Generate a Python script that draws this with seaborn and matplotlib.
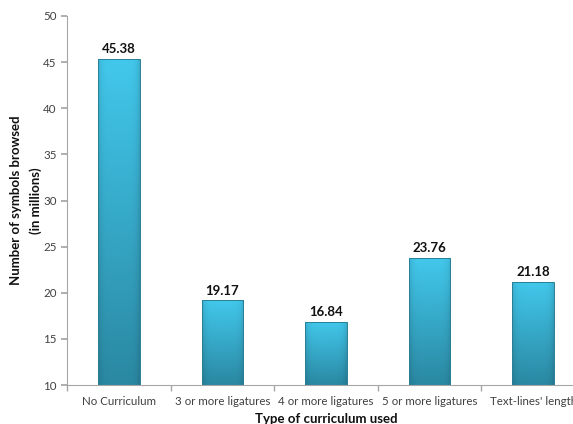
import numpy as np
import pandas as pd
import matplotlib
matplotlib.use("Agg")
import matplotlib.pyplot as plt
import seaborn as sns

categories = ["No Curriculum", "3 or more ligatures", "4 or more ligatures",
              "5 or more ligatures", "Text-lines' length"]
values = [45.38, 19.17, 16.84, 23.76, 21.18]
y_ticks = [10, 15, 20, 25, 30, 35, 40, 45, 50]

sns.set_theme(style="white")
plt.rcParams['font.family'] = ['Lato', 'DejaVu Sans']

df = pd.DataFrame({"cat": categories, "val": values})

fig = plt.figure(figsize=(5.73, 4.24), dpi=100)
ax = fig.add_axes([67/573, 39/424, 518/573, 369/424])

sns.barplot(data=df, x="cat", y="val", ax=ax, color="#35acd0", width=0.4,
            edgecolor="#2a7f95", linewidth=0.7, zorder=2)

ax.set_ylim(10, 50)
ax.set_xlim(-0.5, 4.5)
ax.set_yticks(y_ticks)

# gradient fill clipped to each bar
top = np.array([0x42, 0xc8, 0xec]) / 255
bot = np.array([0x2a, 0x88, 0xa2]) / 255
ny, nx = 200, 40
t = np.linspace(0, 1, ny)[:, None]
xs = np.linspace(-1, 1, nx)[None, :]
base = top[None, None, :] * (1 - t[..., None]) + bot[None, None, :] * t[..., None]
shade = 1 - 0.12 * np.abs(xs) ** 6
img = np.clip(base * shade[..., None], 0, 1)
for p in ax.patches:
    x0, y0 = p.get_x(), p.get_y()
    w, h = p.get_width(), p.get_height()
    im = ax.imshow(img, extent=[x0, x0 + w, 10, y0 + h], aspect="auto",
                   zorder=2.5, origin="upper")
    im.set_clip_path(p)
    p.set_facecolor("none")
    p.set_zorder(3)

for i, v in enumerate(values):
    ax.text(i, v + 0.4, f"{v:.2f}", ha="center", va="bottom",
            fontsize=9.5, fontweight="bold", color="#111111")

sns.despine(ax=ax)
for s in ["left", "bottom"]:
    ax.spines[s].set_color("#a6a6a6")
    ax.spines[s].set_linewidth(0.8)

ax.set_xticks(range(len(categories)))
ax.set_xticklabels(categories)
ax.set_xticks(np.arange(-0.5, 5.0, 1.0), minor=True)
ax.tick_params(axis="x", which="major", length=0, labelsize=8.3,
               labelcolor="#404040", pad=8)
ax.tick_params(axis="x", which="minor", length=4, color="#a6a6a6",
               direction="out", bottom=True)
ax.tick_params(axis="y", length=4, color="#a6a6a6", direction="out",
               left=True, labelsize=8.3, labelcolor="#404040")

ax.set_xlabel("Type of curriculum used", fontsize=9.5, fontweight="bold",
              color="#111111", labelpad=4)
ax.set_ylabel("Number of symbols browsed\n(in millions)", fontsize=9.5,
              fontweight="bold", color="#111111", labelpad=1)
ax.yaxis.label.set_linespacing(1.7)
ax.grid(False)

fig.savefig("out.png", dpi=100)
